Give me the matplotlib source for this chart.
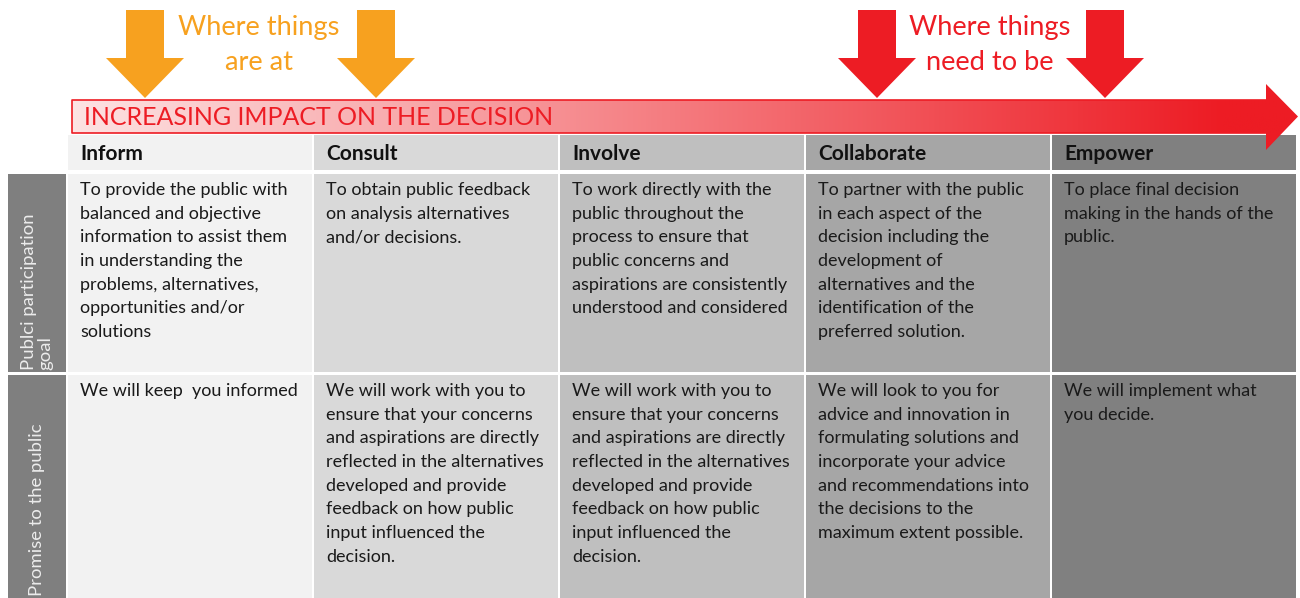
import matplotlib
matplotlib.use("Agg")
import matplotlib.pyplot as plt
import numpy as np
from matplotlib.patches import Rectangle, Polygon
from matplotlib.colors import LinearSegmentedColormap

# ---- data ----
levels = ["Inform", "Consult", "Involve", "Collaborate", "Empower"]
level_colors = ["#f2f2f2", "#d9d9d9", "#bfbfbf", "#a6a6a6", "#808080"]
row_labels = ["Publci participation\ngoal", "Promise to the public"]
goal_texts = [
    "To provide the public with\nbalanced and objective\ninformation to assist them\nin understanding the\nproblems, alternatives,\nopportunities and/or\nsolutions",
    "To obtain public feedback\non analysis alternatives\nand/or decisions.",
    "To work directly with the\npublic throughout the\nprocess to ensure that\npublic concerns and\naspirations are consistently\nunderstood and considered",
    "To partner with the public\nin each aspect of the\ndecision including the\ndevelopment of\nalternatives and the\nidentification of the\npreferred solution.",
    "To place final decision\nmaking in the hands of the\npublic.",
]
promise_texts = [
    "We will keep  you informed",
    "We will work with you to\nensure that your concerns\nand aspirations are directly\nreflected in the alternatives\ndeveloped and provide\nfeedback on how public\ninput influenced the\ndecision.",
    "We will work with you to\nensure that your concerns\nand aspirations are directly\nreflected in the alternatives\ndeveloped and provide\nfeedback on how public\ninput influenced the\ndecision.",
    "We will look to you for\nadvice and innovation in\nformulating solutions and\nincorporate your advice\nand recommendations into\nthe decisions to the\nmaximum extent possible.",
    "We will implement what\nyou decide.",
]
banner_text = "INCREASING IMPACT ON THE DECISION"
current_label = "Where things\nare at"
target_label = "Where things\nneed to be"

FONT = ["Lato", "DejaVu Sans"]
ORANGE = "#f7a11f"
RED = "#ed1c24"

W, H = 1300, 598
fig = plt.figure(figsize=(W / 100, H / 100), dpi=100)
ax = fig.add_axes([0, 0, 1, 1])
ax.set_xlim(0, W)
ax.set_ylim(H, 0)
ax.axis("off")

# layout
x0 = 68
colw = 246
label_x0, label_x1 = 8, 66
hdr_y0, hdr_y1 = 135, 170
r1_y0, r1_y1 = 174, 372
r2_y0, r2_y1 = 375, 600
gap = 2

def col_left(i):
    return x0 + i * colw

for i, (lv, c) in enumerate(zip(levels, level_colors)):
    xl = col_left(i)
    ax.add_patch(Rectangle((xl, hdr_y0), colw - gap, hdr_y1 - hdr_y0, color=c, lw=0, zorder=1))
    ax.text(xl + 12, (hdr_y0 + hdr_y1) / 2 + 1, lv, fontsize=15, fontweight="bold",
            family=FONT, va="center", ha="left", color="#111111", zorder=3)
    for (y0, y1), txt in zip([(r1_y0, r1_y1), (r2_y0, r2_y1)], [goal_texts[i], promise_texts[i]]):
        ax.add_patch(Rectangle((xl, y0), colw - gap, y1 - y0, color=c, lw=0, zorder=1))
        ax.text(xl + 12, y0 + 8, txt, fontsize=13, family=FONT, va="top", ha="left",
                color="#1a1a1a", linespacing=1.59, zorder=3)

# row label cells
for (y0, y1), lab in zip([(r1_y0, r1_y1), (r2_y0, r2_y1)], row_labels):
    ax.add_patch(Rectangle((label_x0, y0), label_x1 - label_x0, y1 - y0, color="#7f7f7f", lw=0, zorder=1))
    ax.text((label_x0 + label_x1) / 2, min(y1, H) - 2, lab,
            rotation=90, fontsize=13.3, family=FONT, color="#ececec",
            ha="center", va="bottom", multialignment="left", linespacing=1.0, zorder=3)

# banner arrow with gradient
bx0, bx1 = 72, 1266
by0, by1 = 100, 133
hy0, hy1 = 84, 150
tip = 1298
poly_pts = [(bx0, by0), (bx1, by0), (bx1, hy0), (tip, (by0 + by1) / 2),
            (bx1, hy1), (bx1, by1), (bx0, by1)]
cmap = LinearSegmentedColormap.from_list("g", [(0, "#fde3e3"), (0.94, RED), (1, RED)])
grad = np.linspace(0, 1, 512).reshape(1, -1)
im = ax.imshow(grad, cmap=cmap, extent=(bx0, tip, hy1, hy0), aspect="auto", zorder=4,
               interpolation="bilinear")
poly = Polygon(poly_pts, closed=True, facecolor="none", edgecolor="none")
ax.add_patch(poly)
im.set_clip_path(poly)
ax.plot([bx1, bx0, bx0, bx1], [by0, by0, by1, by1], color=RED, lw=1.2, zorder=5)
ax.text(bx0 + 12, (by0 + by1) / 2 + 1, banner_text, fontsize=18, family=FONT,
        color=RED, va="center", ha="left", zorder=6)

# down arrows
def down_arrow(cx, color, y_top=10, y_neck=58, y_tip=98, shaft=38, head=78):
    pts = [(cx - shaft / 2, y_top), (cx + shaft / 2, y_top), (cx + shaft / 2, y_neck),
           (cx + head / 2, y_neck), (cx, y_tip), (cx - head / 2, y_neck), (cx - shaft / 2, y_neck)]
    ax.add_patch(Polygon(pts, closed=True, facecolor=color, edgecolor="none", zorder=7))

for cx in [145, 376]:
    down_arrow(cx, ORANGE)
for cx in [877, 1105]:
    down_arrow(cx, RED)

ax.text(259, 45, current_label, fontsize=19.6, family=FONT, color=ORANGE,
        ha="center", va="center", linespacing=1.5, zorder=8)
ax.text(990, 45, target_label, fontsize=19.6, family=FONT, color=RED,
        ha="center", va="center", linespacing=1.5, zorder=8)

fig.savefig("out.png", dpi=100, facecolor="white")
